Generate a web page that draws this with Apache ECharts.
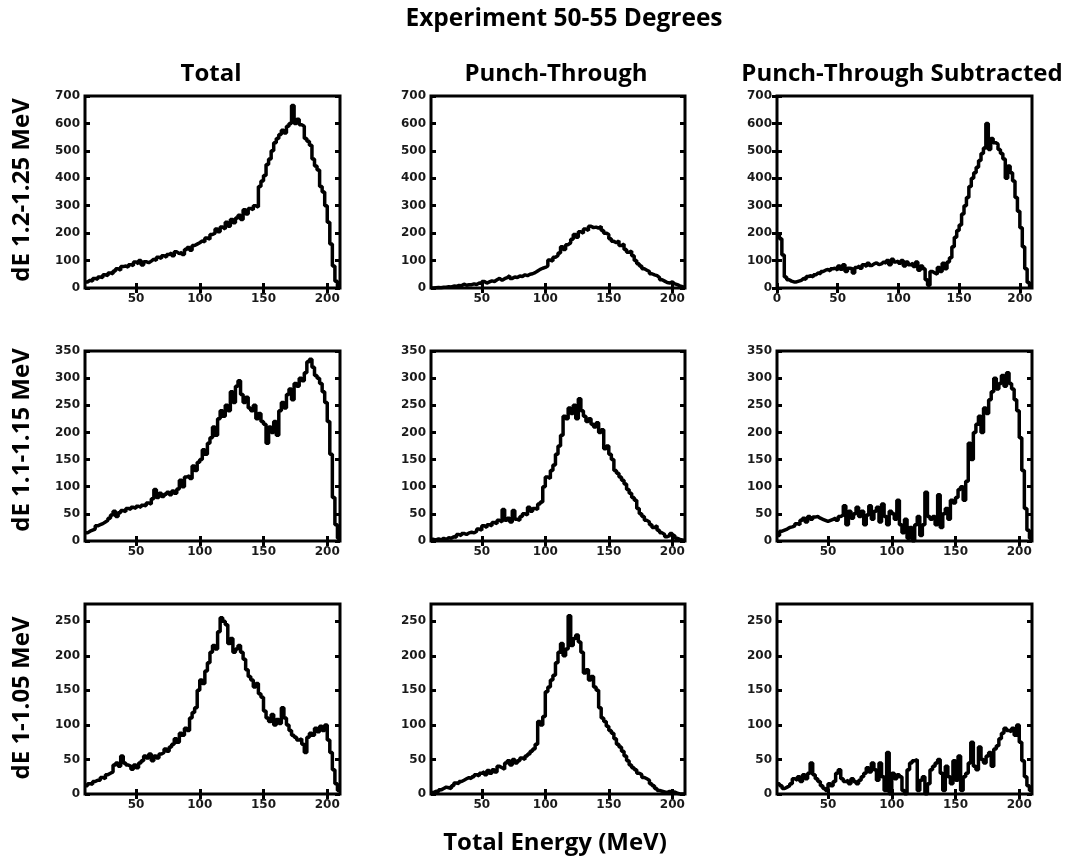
<!DOCTYPE html>
<html><head><meta charset="utf-8">
<script src="https://cdn.jsdelivr.net/npm/echarts@6/dist/echarts.min.js"></script>
<style>html,body{margin:0;padding:0;background:#fff}#c{width:1070px;height:863px}</style>
</head><body><div id="c"></div>
<script>
// ---------- texts ----------
const mainTitle = 'Experiment 50-55 Degrees';
const columnTitles = ['Total', 'Punch-Through', 'Punch-Through Subtracted'];
const rowLabels = ['dE 1.2-1.25 MeV', 'dE 1.1-1.15 MeV', 'dE 1-1.05 MeV'];
const xAxisTitle = 'Total Energy (MeV)';

// ---------- axes ----------
const binWidth = 2;            // MeV
const xMax = 210;
const rowYMax = [700, 350, 275];
const rowYTicks = [
  [0, 100, 200, 300, 400, 500, 600, 700],
  [0, 50, 100, 150, 200, 250, 300, 350],
  [0, 50, 100, 150, 200, 250]
];
const xTicks = [50, 100, 150, 200];
const xTicksFromZero = [0, 50, 100, 150, 200];

// ---------- data (counts per 2 MeV bin) ----------
// Row 1 : dE 1.2-1.25 MeV
const total1Start = 10;
const total1 = [22,28,25,35,32, 40,38,48,45,55, 52,62,70,65,78, 80,76,85,82,95,
  88,100,84,96,92, 98,105,100,112,108, 118,112,122,128,118, 132,125,130,122,140,
  148,138,155,160,165, 172,168,182,178,195, 200,215,205,222,215, 240,225,250,238,255,
  265,250,285,270,290, 285,300,295,370,390, 410,450,470,500,530, 545,560,575,565,590,
  600,665,600,615,595, 590,545,535,520,470, 445,430,370,350,300, 240,160,80,25,5];
const punch1Start = 10;
const punch1 = [0,1,2,1,3, 3,5,4,7,6, 9,8,14,10,12, 12,15,13,18,16,
  24,18,22,26,24, 30,35,28,34,38, 45,35,40,38,44, 42,48,45,50,52,
  56,62,68,72,75, 80,102,98,112,118, 128,150,140,158,165, 178,195,185,205,200,
  215,210,225,220,222, 218,225,210,200,195, 180,170,165,172,155, 160,140,130,135,118,
  100,88,80,70,65, 60,52,48,45,38, 30,25,20,18,22, 15,12,8,5,2];
const sub1Start = 0;
const sub1 = [195,180,120,40,30, 25,22,22,25,28, 35,32,42,45,40, 48,55,52,60,65,
  68,62,70,72,65, 80,68,85,60,72, 70,55,75,80,72, 85,78,90,82,88,
  92,85,88,95,90, 100,85,105,95,98, 90,100,80,95,85, 90,78,95,65,80,
  70,30,10,60,55, 50,75,60,90,70, 95,110,150,185,210, 230,270,300,330,370,
  400,420,440,465,490, 510,600,505,545,530, 525,505,490,470,400, 445,420,390,330,280,
  220,150,70,20,5];

// Row 2 : dE 1.1-1.15 MeV
const total2Start = 10;
const total2 = [15,18,20,22,28, 30,32,35,38,42, 48,55,45,52,56, 54,60,58,62,60,
  64,62,66,65,70, 68,78,95,80,88, 82,86,90,85,92, 88,96,112,100,118,
  120,115,138,130,145, 150,168,160,180,190, 210,195,225,240,230, 250,240,275,255,285,
  295,270,255,265,245, 240,250,225,235,220, 215,180,210,200,220, 195,240,255,245,270,
  280,260,290,285,300, 295,310,330,335,320, 305,300,290,275,255, 220,160,80,30,5];
const punch2Start = 10;
const punch2 = [3,2,4,2,5, 3,6,5,8,7, 12,10,14,12,15, 16,15,18,22,20,
  28,25,30,28,34, 32,38,35,58,38, 42,35,56,40,38, 45,50,48,62,55,
  60,58,68,72,100, 118,115,130,140,160, 175,195,230,225,245, 235,250,225,262,240,
  230,220,225,215,210, 218,200,205,170,175, 160,150,130,125,118, 112,105,95,88,80,
  75,60,50,45,38, 35,30,25,28,20, 15,12,8,10,14, 10,5,3,2,1];
const sub2Start = 10;
const sub2 = [10,18,20,22,25, 26,28,32,30,38, 42,35,45,40,44, 45,42,40,38,36,
  38,40,42,38,45, 48,65,30,55,42, 50,62,45,55,30, 48,65,40,55,62,
  35,68,45,30,55, 50,40,75,30,15, 40,5,25,0,30, 45,10,30,90,45,
  40,45,30,85,25, 50,60,40,75,70, 80,95,100,75,110, 180,150,200,215,230,
  200,245,235,260,275, 300,280,290,305,285, 310,290,280,260,240, 190,130,60,20,5];

// Row 3 : dE 1-1.05 MeV
const total3Start = 10;
const total3 = [12,15,14,18,20, 20,24,22,28,30, 32,42,45,40,55, 45,42,40,36,42,
  38,45,48,55,52, 58,48,55,52,58, 60,65,62,68,72, 80,75,88,85,95,
  92,110,118,125,150, 165,160,178,190,205, 215,210,235,255,250, 245,218,225,205,210,
  215,205,195,180,170, 165,155,160,145,140, 120,110,105,115,100, 108,102,125,110,100,
  92,85,82,78,80, 72,60,82,88,85, 95,90,98,92,100, 78,60,35,15,5];
const punch3Start = 10;
const punch3 = [2,4,3,6,8, 10,9,8,12,16, 15,18,20,22,24, 22,25,28,26,30,
  32,28,34,30,35, 32,40,38,36,45, 48,42,50,45,48, 52,50,55,58,62,
  65,72,105,100,112, 148,155,165,172,190, 205,218,200,210,258, 215,225,230,220,205,
  175,180,165,170,155, 150,125,110,105,98, 92,88,80,72,68, 62,55,48,42,38,
  35,30,28,24,22, 20,15,12,8,5, 4,3,2,4,2, 3,1,0,0,0];
const sub3Start = 10;
const sub3 = [15,12,8,10,12, 15,22,20,25,18, 28,22,30,45,28, 22,18,12,8,5,
  15,12,18,30,35, 22,18,20,15,22, 18,15,20,25,30, 38,32,45,35,20,
  45,25,5,60,0, 30,22,28,25,5, 0,35,45,48,50, 5,20,25,0,15,
  35,40,45,50,30, 5,40,25,15,48, 20,55,5,25,30, 45,75,40,35,68,
  50,45,55,60,40, 65,70,80,88,95, 92,90,95,85,100, 75,48,25,12,5];

const panels = [
  [[total1Start, total1], [punch1Start, punch1], [sub1Start, sub1]],
  [[total2Start, total2], [punch2Start, punch2], [sub2Start, sub2]],
  [[total3Start, total3], [punch3Start, punch3], [sub3Start, sub3]]
];

// ---------- layout ----------
const colLeft = [85, 431, 777];
const colWidth = [255, 254, 255];
const rowTop = [96, 351, 604];
const rowHeight = [192, 190, 190];
const FONT = '"Open Sans", sans-serif';
const TICKFONT = '"DejaVu Sans", sans-serif';

function stepData(start, vals) {
  const d = vals.map((v, i) => [start + i * binWidth, v]);
  d.push([start + vals.length * binWidth, vals[vals.length - 1]]);
  return d;
}

const grid = [], xAxis = [], yAxis = [], series = [];
const tickStyle = { show: true, inside: true, length: 5, lineStyle: { color: '#000', width: 3 } };
const labelStyle = { color: '#1a1a1a', fontFamily: TICKFONT, fontWeight: 'bold', fontSize: 12 };

for (let r = 0; r < 3; r++) {
  for (let c = 0; c < 3; c++) {
    const g = grid.length;
    grid.push({ left: colLeft[c], top: rowTop[r], width: colWidth[c], height: rowHeight[r],
      show: true, borderColor: '#000', borderWidth: 3, backgroundColor: 'transparent' });
    const [start, vals] = panels[r][c];
    const xt = start === 0 ? xTicksFromZero : xTicks;
    const xmin = start;
    xAxis.push({ type: 'value', gridIndex: g, position: 'bottom', min: xmin, max: xMax,
      axisLine: { show: false }, splitLine: { show: false },
      axisTick: Object.assign({ customValues: xt }, tickStyle),
      axisLabel: Object.assign({ customValues: xt, margin: 5 }, labelStyle) });
    xAxis.push({ type: 'value', gridIndex: g, position: 'top', min: xmin, max: xMax,
      axisLine: { show: false }, splitLine: { show: false },
      axisTick: Object.assign({ customValues: xt }, tickStyle),
      axisLabel: { show: false } });
    const yt = rowYTicks[r];
    yAxis.push({ type: 'value', gridIndex: g, position: 'left', min: 0, max: rowYMax[r],
      axisLine: { show: false }, splitLine: { show: false },
      axisTick: Object.assign({ customValues: yt }, tickStyle),
      axisLabel: Object.assign({ customValues: yt, margin: 5 }, labelStyle) });
    yAxis.push({ type: 'value', gridIndex: g, position: 'right', min: 0, max: rowYMax[r],
      axisLine: { show: false }, splitLine: { show: false },
      axisTick: Object.assign({ customValues: yt }, tickStyle),
      axisLabel: { show: false } });
    series.push({ type: 'line', step: 'end', xAxisIndex: 2 * g, yAxisIndex: 2 * g,
      data: stepData(start, vals), symbol: 'none', clip: true,
      lineStyle: { color: '#000', width: 3.5 } });
  }
}

const graphic = [];
graphic.push({ type: 'text', x: 564, y: 19, style: { text: mainTitle, textAlign: 'center',
  textVerticalAlign: 'middle', font: 'bold 24.5px ' + FONT, fill: '#000' } });
const colCenters = [211, 556, 902];
columnTitles.forEach((t, i) => graphic.push({ type: 'text', x: colCenters[i], y: 74,
  style: { text: t, textAlign: 'center', textVerticalAlign: 'middle', font: 'bold 24px ' + FONT, fill: '#000' } }));
const rowCenters = [190, 440, 698];
rowLabels.forEach((t, i) => graphic.push({ type: 'text', x: 22, y: rowCenters[i], rotation: Math.PI / 2,
  style: { text: t, textAlign: 'center', textVerticalAlign: 'middle', font: 'bold 24px ' + FONT, fill: '#000' } }));
graphic.push({ type: 'text', x: 555, y: 843, style: { text: xAxisTitle, textAlign: 'center',
  textVerticalAlign: 'middle', font: 'bold 24px ' + FONT, fill: '#000' } });

const chart = echarts.init(document.getElementById('c'), null, { renderer: 'canvas' });
chart.setOption({ animation: false, backgroundColor: '#fff', grid, xAxis, yAxis, series, graphic });
</script></body></html>
